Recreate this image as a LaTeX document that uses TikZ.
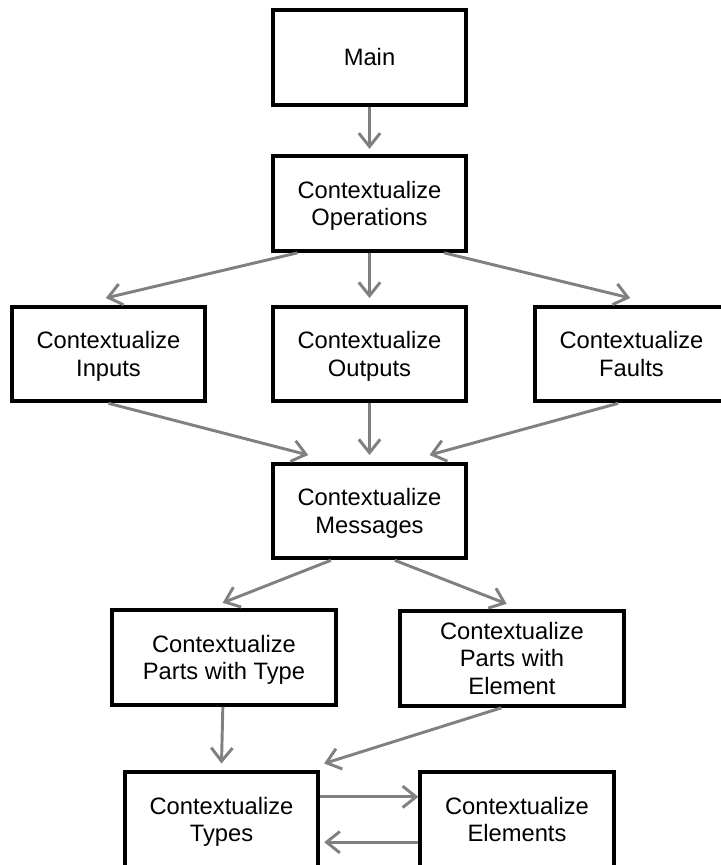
\documentclass[tikz,border=0pt]{standalone}
\usepackage{fontspec}
\setmainfont{Liberation Sans}
\usepackage{tikz}
\usetikzlibrary{arrows.meta}
\definecolor{ctxgray}{HTML}{808080}
\newcommand{\ctxraise}{\rule{0pt}{18.8pt}}

\begin{document}
\begin{tikzpicture}[
    x=0.75pt, y=-0.75pt,
    state/.style={rectangle, draw=black, line width=3pt, fill=white, align=center, minimum width=145pt, minimum height=71pt, inner sep=2pt, font=\fontsize{17.8}{20.5}\selectfont, execute at end node=\strut},
    widestate/.style={state, minimum width=168pt},
    arrow/.style={-{Straight Barb[length=10pt, width=16pt, line width=2.2pt]}, draw=ctxgray, line width=2.2pt}
]
\clip (0,0) rectangle (721,865);
\useasboundingbox (0,0) rectangle (721,865);

\node[state] (main) at (369.5,57.5) {\ctxraise Main};
\node[state] (operations) at (369.5,203.5) {\ctxraise Contextualize\\Operations};

\node[state] (inputs) at (108.5,354) {\ctxraise Contextualize\\Inputs};
\node[state] (outputs) at (369.5,354) {\ctxraise Contextualize\\Outputs};
\node[state] (faults) at (631.5,354) {\ctxraise Contextualize\\Faults};

\node[state] (messages) at (369.5,511) {\ctxraise Contextualize\\Messages};

\node[widestate] (partstype) at (224,657.5) {\ctxraise Contextualize\\Parts with Type};
\node[widestate] (partselem) at (512,658.5) {\ctxraise Contextualize\\Parts with\\Element};

\node[state] (types) at (221.5,819.5) {\ctxraise Contextualize\\Types};
\node[state] (elements) at (517,819.5) {\ctxraise Contextualize\\Elements};

\draw[arrow] (main) -- ([yshift=4pt]operations.north);

\draw[arrow] ([xshift=20pt]operations.south west) -- ([xshift=-2pt, yshift=5pt]inputs.north);
\draw[arrow] (operations) -- ([yshift=5pt]outputs.north);
\draw[arrow] ([xshift=-18pt]operations.south east) -- ([xshift=-1pt, yshift=5pt]faults.north);

\draw[arrow] (inputs.south) -- ([xshift=-46pt, yshift=5pt]messages.north);
\draw[arrow] (outputs) -- ([yshift=5pt]messages.north);
\draw[arrow] ([xshift=-10pt]faults.south) -- ([xshift=45pt, yshift=5pt]messages.north);

\draw[arrow] ([xshift=-29pt]messages.south) -- ([xshift=-1pt, yshift=4pt]partstype.north);
\draw[arrow] ([xshift=19pt]messages.south) -- ([xshift=-4pt, yshift=4pt]partselem.north);

\draw[arrow] (partstype) -- ([yshift=5pt]types.north);
\draw[arrow] ([xshift=-8pt]partselem.south) -- ([xshift=3pt, yshift=5pt]types.north east);

\draw[arrow] ([yshift=17pt]types.east) -- ([yshift=17pt]elements.west);
\draw[arrow] ([yshift=-17pt]elements.west) -- ([xshift=3pt, yshift=-17pt]types.east);

\end{tikzpicture}
\end{document}
